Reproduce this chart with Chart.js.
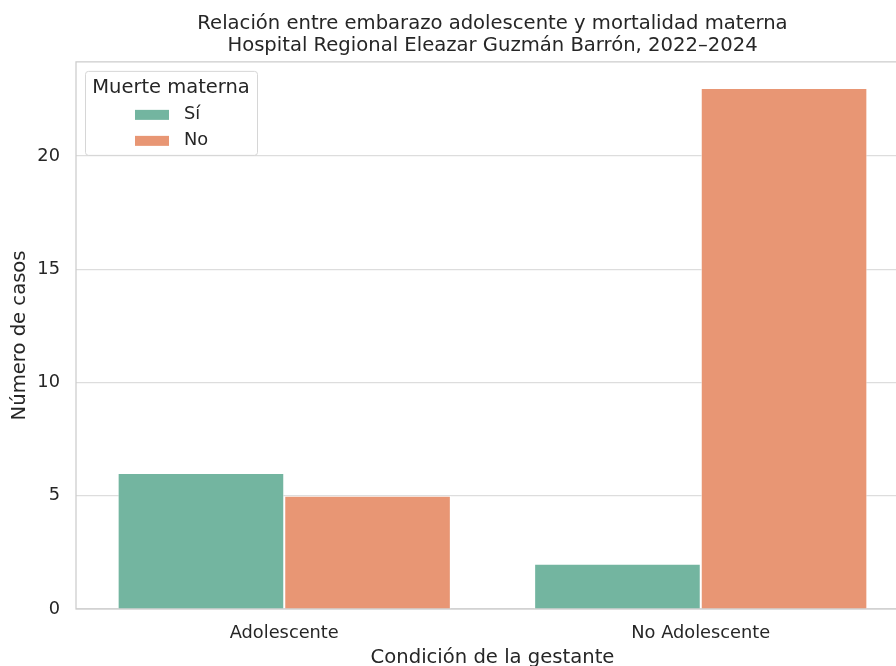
<!DOCTYPE html>
<html>
<head>
<meta charset="utf-8">
<script src="https://cdn.jsdelivr.net/npm/chart.js@4.4.0/dist/chart.umd.min.js"></script>
<style>
  html, body { margin: 0; padding: 0; background: #fff; overflow: hidden; }
  #wrap { position: absolute; left: 0; top: 0; width: 920px; height: 666px; }
</style>
</head>
<body>
<div id="wrap"><canvas id="chart"></canvas></div>
<script>
// data
const categories = ["Adolescente", "No Adolescente"];
const seriesLabels = ["Sí", "No"];
const muerteSi = [6, 2];
const muerteNo = [5, 23];
const yTicks = [0, 5, 10, 15, 20];

const FONT = "'DejaVu Sans', sans-serif";
const TEXT = "#262626";

// frame around the plot area (spines)
const framePlugin = {
  id: "frame",
  beforeDatasetsDraw(chart) {
    const a = chart.chartArea, c = chart.ctx;
    c.save();
    c.strokeStyle = "#cccccc";
    c.lineWidth = 1.25;
    c.strokeRect(a.left, a.top, a.right - a.left, a.bottom - a.top);
    c.restore();
  },
};

// seaborn-like legend box in the upper left corner
const legendBox = {
  id: "legendBox",
  afterDraw(chart) {
    const a = chart.chartArea, c = chart.ctx;
    const x = a.left + 9, y = a.top + 9, w = 172, h = 84;
    c.save();
    c.fillStyle = "rgba(255,255,255,0.8)";
    c.strokeStyle = "#d6d6d6";
    c.lineWidth = 1;
    c.beginPath();
    c.roundRect(x + 0.5, y + 0.5, w, h, 3);
    c.fill();
    c.stroke();
    c.fillStyle = TEXT;
    c.font = "19.5px " + FONT;
    c.textAlign = "center";
    c.textBaseline = "middle";
    c.fillText("Muerte materna", x + w / 2, y + 17);
    c.textAlign = "left";
    chart.data.datasets.forEach((ds, i) => {
      const yy = y + 44 + i * 26;
      c.fillStyle = ds.backgroundColor;
      c.fillRect(x + 50, yy - 5, 34, 10);
      c.fillStyle = TEXT;
      c.font = "17.8px " + FONT;
      c.fillText(ds.label, x + 99, yy);
    });
    c.restore();
  },
};

new Chart(document.getElementById("chart"), {
  type: "bar",
  data: {
    labels: categories,
    datasets: [
      {
        label: seriesLabels[0],
        data: muerteSi,
        backgroundColor: "#73b5a0",
        borderColor: "rgba(255,255,255,0.6)",
        borderWidth: 1,
        categoryPercentage: 0.8,
        barPercentage: 1.0,
      },
      {
        label: seriesLabels[1],
        data: muerteNo,
        backgroundColor: "#e89674",
        borderColor: "rgba(255,255,255,0.6)",
        borderWidth: 1,
        categoryPercentage: 0.8,
        barPercentage: 1.0,
      },
    ],
  },
  options: {
    responsive: true,
    maintainAspectRatio: false,
    animation: false,
    layout: { padding: { left: 0, right: 11, top: 0, bottom: 0 } },
    plugins: {
      legend: { display: false },
      tooltip: { enabled: false },
      title: {
        display: true,
        fullSize: false,
        text: [
          "Relación entre embarazo adolescente y mortalidad materna",
          "Hospital Regional Eleazar Guzmán Barrón, 2022–2024",
        ],
        color: TEXT,
        font: { family: FONT, size: 19.6, weight: "normal", lineHeight: 1.17 },
        padding: { top: 12, bottom: 4 },
      },
    },
    scales: {
      x: {
        offset: true,
        grid: { display: false, drawTicks: false },
        border: { display: false },
        ticks: { color: TEXT, font: { family: FONT, size: 17.8 }, padding: 14 },
        title: {
          display: true,
          text: "Condición de la gestante",
          color: TEXT,
          font: { family: FONT, size: 19.6 },
          padding: { top: 7, bottom: -4 },
        },
        afterFit(scale) { scale.height = 57; },
      },
      y: {
        min: 0,
        max: 24.15,
        grid: { color: "#dddddd", lineWidth: 1.25, drawTicks: false },
        border: { display: false },
        afterBuildTicks(scale) { scale.ticks = yTicks.map((v) => ({ value: v })); },
        ticks: { color: TEXT, font: { family: FONT, size: 17.8 }, padding: 16, includeBounds: false },
        title: {
          display: true,
          text: "Número de casos",
          color: TEXT,
          font: { family: FONT, size: 19.6 },
          padding: { top: 8, bottom: 0 },
        },
        afterFit(scale) { scale.width = 76; },
      },
    },
  },
  plugins: [framePlugin, legendBox],
});
</script>
</body>
</html>
